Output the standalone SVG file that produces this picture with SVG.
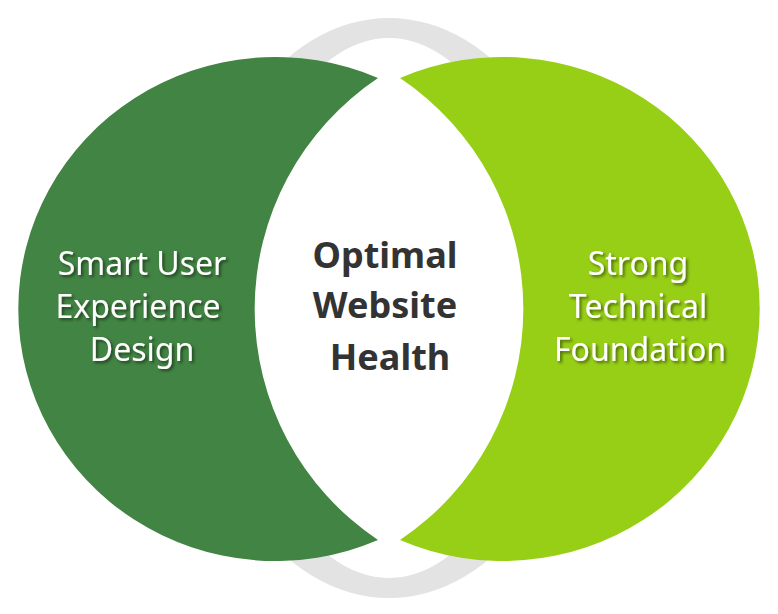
<svg xmlns="http://www.w3.org/2000/svg" width="778" height="614" viewBox="0 0 778 614">
<defs>
<filter id="sh" x="-10%" y="-10%" width="130%" height="130%"><feDropShadow dx="2" dy="2" stdDeviation="1.5" flood-color="#000" flood-opacity="0.5"/></filter>
</defs>
<style>
.lab{font-family:"Noto Sans",sans-serif;font-size:32px;fill:#fff;text-anchor:middle;filter:url(#sh)}
.mid{font-family:"Noto Sans",sans-serif;font-size:36px;font-weight:bold;fill:#333;text-anchor:middle}
</style>
<rect width="778" height="614" fill="#fff"/>
<ellipse id="back" cx="389" cy="308" rx="200" ry="290" fill="#e3e3e3"/>
<ellipse cx="389" cy="308" rx="150" ry="270" fill="#fff"/>
<g id="left">
<path d="M378,78 A257 252 0 1 0 378,540 A278 278 0 0 1 378,78 Z" fill="#428443"/>
<text class="lab" x="142" y="275">Smart User</text>
<text class="lab" x="138" y="318">Experience</text>
<text class="lab" x="142" y="361">Design</text>
</g>
<g id="right">
<path d="M400,78 A257 252 0 1 1 400,540 A278 278 0 0 0 400,78 Z" fill="#97cf16"/>
<text class="lab" x="638" y="275">Strong</text>
<text class="lab" x="638" y="318">Technical</text>
<text class="lab" x="640" y="361">Foundation</text>
</g>
<g id="center">
<text class="mid" x="385" y="268">Optimal</text>
<text class="mid" x="385" y="318">Website</text>
<text class="mid" x="390" y="370">Health</text>
</g>
<g id="connectors"/>
</svg>
